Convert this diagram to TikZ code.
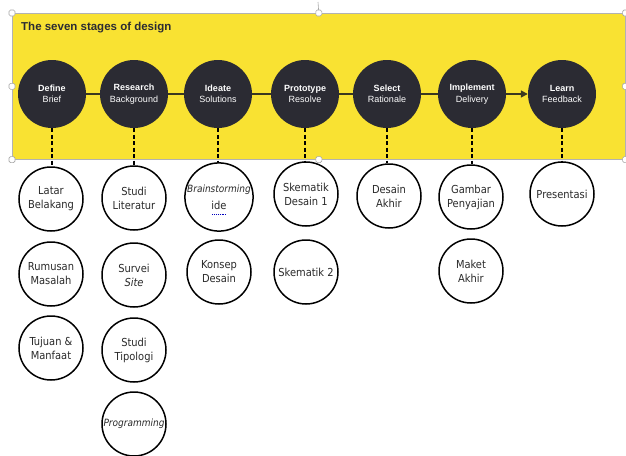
\documentclass[tikz,border=0pt]{standalone}
\usepackage{fontspec}
\setmainfont{Liberation Sans}
\newfontfamily\circfont{DejaVu Sans Condensed}
\usetikzlibrary{arrows.meta}
\definecolor{yel}{HTML}{F9E232}
\definecolor{darkc}{HTML}{2B2B33}
\definecolor{olivec}{HTML}{3A3820}
\definecolor{txt}{HTML}{2A2A2A}
\begin{document}
\begin{tikzpicture}[x=1pt,y=-1pt,
  stage/.style={circle,fill=darkc,minimum size=68pt,inner sep=0pt,text=white,
    font=\fontsize{9}{11.5}\selectfont,align=center},
  task/.style={circle,draw=black,line width=1.5pt,fill=white,minimum size=64pt,
    inner sep=0pt,text=txt,font=\circfont\fontsize{11}{14}\selectfont,align=center},
  link/.style={draw=olivec,line width=1.6pt},
  dashlink/.style={draw=black,line width=1.8pt,dash pattern=on 4pt off 2.5pt},
  handle/.style={rectangle,rounded corners=1.5pt,draw=gray!70,fill=white,
    line width=0.6pt,minimum size=6pt,inner sep=0pt}
]
\useasboundingbox (0,0) rectangle (626,455);
% panel
\node[rectangle,fill=yel,draw=gray!60,line width=0.6pt,minimum width=613pt,
  minimum height=146pt,inner sep=0pt,anchor=north west] (panel) at (12,13) {};
\node[anchor=west,text=darkc,font=\bfseries\fontsize{11.5}{13}\selectfont,inner sep=0pt]
  (title) at (21,28) {The seven stages of design};
% stages
\node[stage] (s1) at (52,94) {\textbf{Define}\\Brief};
\node[stage] (s2) at (134,94) {\textbf{Research}\\Background};
\node[stage] (s3) at (218,94) {\textbf{Ideate}\\Solutions};
\node[stage] (s4) at (305,94) {\textbf{Prototype}\\Resolve};
\node[stage] (s5) at (387,94) {\textbf{Select}\\Rationale};
\node[stage] (s6) at (472,94) {\textbf{Implement}\\Delivery};
\node[stage] (s7) at (562,94) {\textbf{Learn}\\Feedback};
\draw[link] (s1) -- (s2);
\draw[link] (s2) -- (s3);
\draw[link] (s3) -- (s4);
\draw[link] (s4) -- (s5);
\draw[link] (s5) -- (s6);
\draw[link,-{Triangle[length=7pt,width=7pt]}] (s6) -- (s7);
% tasks
\node[task] (t11) at (51,199) {Latar\\Belakang};
\node[task] (t12) at (51,274) {Rumusan\\Masalah};
\node[task] (t13) at (51,348) {Tujuan \&\\Manfaat};
\node[task] (t21) at (134,198) {Studi\\Literatur};
\node[task] (t22) at (134,275) {Survei\\{\itshape Site}};
\node[task] (t23) at (134,350) {Studi\\Tipologi};
\node[task] (t24) at (134,424) {{\fontsize{10}{12}\selectfont\itshape Programming}};
\node[task] (t31) at (219,197) {{\fontsize{10}{12}\selectfont\itshape Brainstorming}\\[3pt]ide};
\node[task] (t32) at (219,272) {Konsep\\Desain};
\node[task] (t41) at (306,194) {Skematik\\Desain 1};
\node[task] (t42) at (306,272) {Skematik 2};
\node[task] (t51) at (389,196) {Desain\\Akhir};
\node[task] (t61) at (471,197) {Gambar\\Penyajian};
\node[task] (t62) at (471,271) {Maket\\Akhir};
\node[task] (t71) at (562,194) {Presentasi};
\draw[blue!75!black,densely dotted,line width=0.9pt]
  ([xshift=-7pt,yshift=-17pt]t31.center) -- ([xshift=7pt,yshift=-17pt]t31.center);
% dashed connectors
\draw[dashlink] (s1.south) -- (s1.south |- t11.north);
\draw[dashlink] (s2.south) -- (s2.south |- t21.north);
\draw[dashlink] (s3.south) -- (s3.south |- t31.north);
\draw[dashlink] (s4.south) -- (s4.south |- t41.north);
\draw[dashlink] (s5.south) -- (s5.south |- t51.north);
\draw[dashlink] (s6.south) -- (s6.south |- t61.north);
\draw[dashlink] (s7.south) -- (s7.south |- t71.north);
% selection handles
\coordinate (rot) at (318,2);
\draw[gray!70,line width=0.6pt] (panel.north) -- (rot);
\foreach \a in {north west,north,north east,west,east,south west,south,south east}
  \node[handle] at (panel.\a) {};
\end{tikzpicture}
\end{document}
